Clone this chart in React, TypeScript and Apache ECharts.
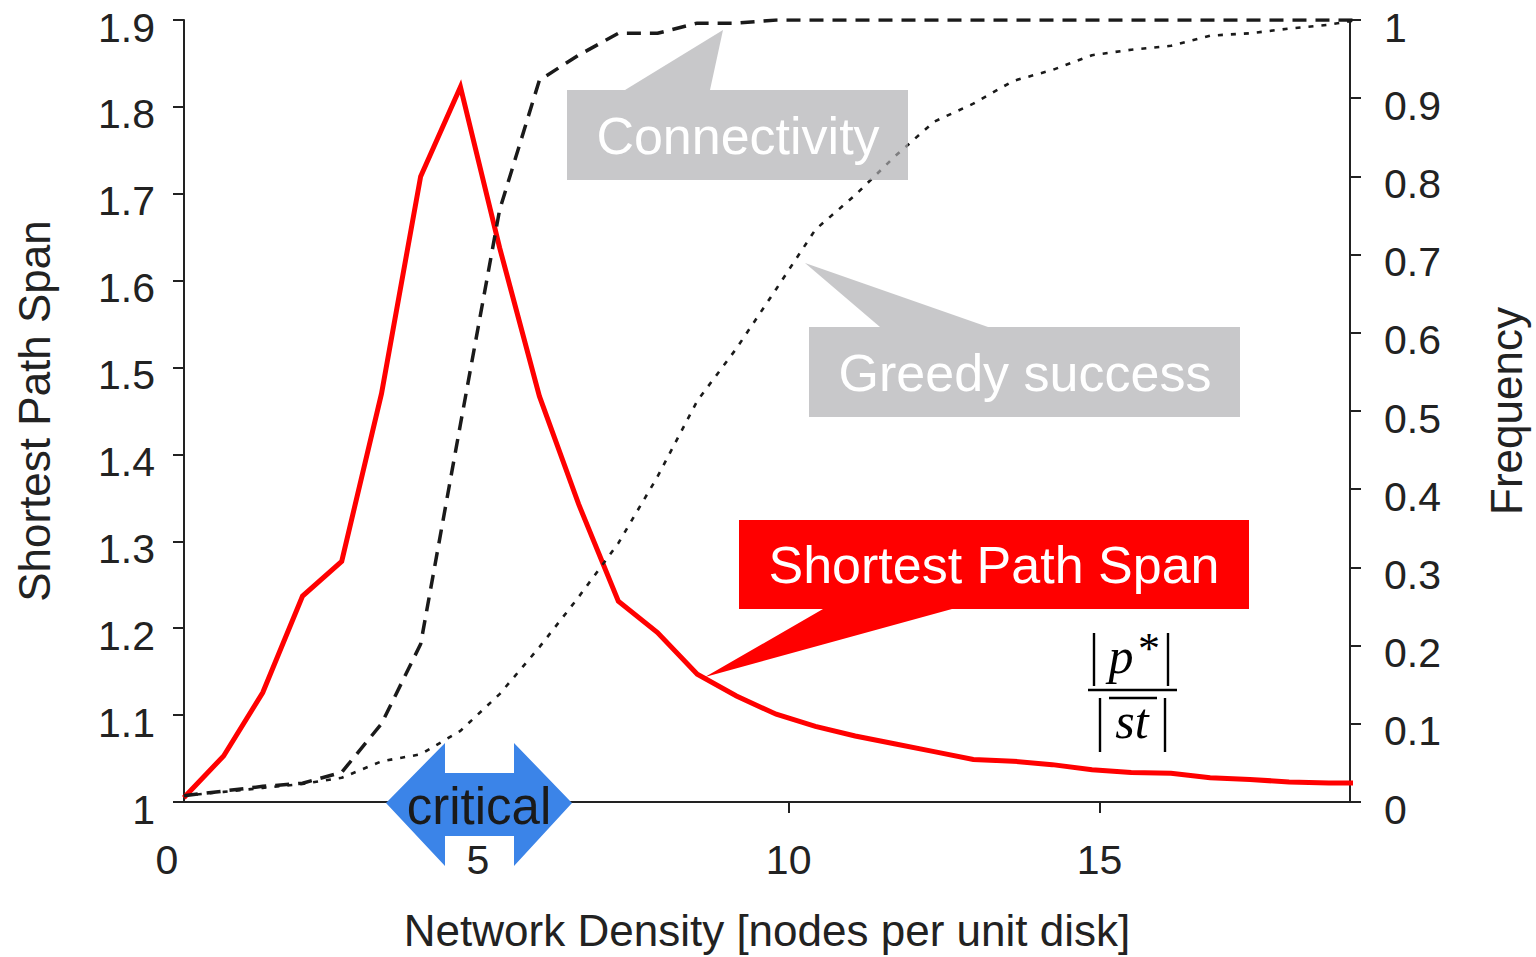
import React, { useEffect, useRef } from "react";
import * as echarts from "echarts";

// Network density sample points [nodes per unit disk]
const densities = [
  0.27, 0.91, 1.54, 2.18, 2.81, 3.45, 4.08, 4.72, 5.35, 5.99, 6.62, 7.26, 7.89,
  8.53, 9.16, 9.8, 10.43, 11.07, 11.7, 12.34, 12.97, 13.61, 14.24, 14.88, 15.51,
  16.15, 16.78, 17.42, 18.05, 18.69, 19.15,
];
// Shortest path span |p*| / |st|  (left axis)
const shortestPathSpan = [
  1.005, 1.053, 1.126, 1.237, 1.277, 1.47, 1.72, 1.823, 1.638, 1.467, 1.343,
  1.231, 1.195, 1.147, 1.122, 1.101, 1.087, 1.076, 1.067, 1.058, 1.049, 1.047,
  1.043, 1.037, 1.034, 1.033, 1.028, 1.026, 1.023, 1.022, 1.022,
];
// Connectivity frequency (right axis)
const connectivity = [
  0.008, 0.014, 0.02, 0.024, 0.038, 0.1, 0.202, 0.483, 0.757, 0.923, 0.955,
  0.983, 0.983, 0.996, 0.996, 1, 1, 1, 1, 1, 1, 1, 1, 1, 1, 1, 1, 1, 1, 1, 1,
];
// Greedy routing success frequency (right axis)
const greedySuccess = [
  0.008, 0.013, 0.018, 0.023, 0.031, 0.052, 0.061, 0.091, 0.138, 0.198, 0.262,
  0.331, 0.416, 0.513, 0.58, 0.656, 0.732, 0.776, 0.825, 0.87, 0.893, 0.922,
  0.936, 0.955, 0.962, 0.967, 0.98, 0.983, 0.989, 0.994, 1,
];
const xTickValues = [5, 10, 15];

const SANS = "'Liberation Sans', Arial, Helvetica, sans-serif";
const SERIF = "'Liberation Serif', 'DejaVu Serif', serif";
const INK = "#222222";

export default function App() {
  const ref = useRef<HTMLDivElement>(null);

  useEffect(() => {
    document.body.style.margin = "0";
    if (!ref.current) return;
    const chart = echarts.init(ref.current, null, { renderer: "svg" });

    const pair = (vals: number[]) => densities.map((x, i) => [x, vals[i]]);
    const axisLineStyle = { color: INK, width: 2 };
    const labelStyle = { fontSize: 41, color: INK, fontFamily: SANS };
    const nameStyle = { fontSize: 44, color: INK, fontFamily: SANS };
    // y tick labels sit a little below their ticks, as in the reference
    const yLabel = (margin: number) => ({
      ...labelStyle,
      margin,
      formatter: (v: number) => `{a|${v}}`,
      rich: { a: { ...labelStyle, padding: [15, 0, 0, 0] } },
    });

    const option: any = {
      animation: false,
      backgroundColor: "#ffffff",
      grid: { left: 184, right: 186, top: 20, bottom: 154 },
      xAxis: {
        type: "value",
        min: 0.273,
        max: 19.03,
        name: "Network Density [nodes per unit disk]",
        nameLocation: "middle",
        nameGap: 106,
        nameTextStyle: nameStyle,
        axisLine: { show: true, lineStyle: axisLineStyle },
        axisTick: {
          show: true,
          customValues: xTickValues,
          length: 11,
          lineStyle: axisLineStyle,
        },
        axisLabel: { ...labelStyle, customValues: xTickValues, margin: 37 },
        splitLine: { show: false },
      },
      yAxis: [
        {
          type: "value",
          min: 1,
          max: 1.9,
          interval: 0.1,
          position: "left",
          name: "Shortest Path Span",
          nameLocation: "middle",
          nameRotate: 90,
          nameGap: 128,
          nameTextStyle: nameStyle,
          axisLine: { show: true, lineStyle: axisLineStyle },
          axisTick: { show: true, length: 11, lineStyle: axisLineStyle },
          axisLabel: yLabel(29),
          splitLine: { show: false },
        },
        {
          type: "value",
          min: 0,
          max: 1,
          interval: 0.1,
          position: "right",
          name: "Frequency",
          nameLocation: "middle",
          nameRotate: 90,
          nameGap: 134,
          nameTextStyle: nameStyle,
          axisLine: { show: true, lineStyle: axisLineStyle },
          axisTick: { show: true, length: 11, lineStyle: axisLineStyle },
          axisLabel: yLabel(34),
          splitLine: { show: false },
        },
      ],
      series: [
        {
          name: "Shortest Path Span",
          type: "line",
          yAxisIndex: 0,
          data: pair(shortestPathSpan),
          symbol: "none",
          clip: false,
          lineStyle: { color: "#ff0000", width: 5, join: "miter" },
          z: 2,
        },
        {
          name: "Connectivity",
          type: "line",
          yAxisIndex: 1,
          data: pair(connectivity),
          symbol: "none",
          lineStyle: { color: "#1a1a1a", width: 3.5, type: [14, 9] },
          z: 3,
        },
        {
          name: "Greedy success",
          type: "line",
          yAxisIndex: 1,
          data: pair(greedySuccess),
          symbol: "none",
          lineStyle: { color: "#1a1a1a", width: 2.6, type: [5, 8] },
          z: 3,
        },
      ],
    };
    chart.setOption(option);

    const x0 = chart.convertToPixel({ xAxisIndex: 0 }, 0) as number;
    const yBase = chart.convertToPixel({ yAxisIndex: 1 }, 0) as number;

    const boxFill = "rgba(174,174,177,0.68)";
    const calloutText = (text: string, x: number, y: number) => ({
      type: "text",
      z: 120,
      style: {
        text,
        x,
        y,
        fill: "#ffffff",
        fontSize: 52,
        fontFamily: SANS,
        align: "center",
        verticalAlign: "middle",
      },
    });
    const bar = (x1: number, y1: number, x2: number, y2: number) => ({
      type: "line",
      z: 110,
      shape: { x1, y1, x2, y2 },
      style: { stroke: "#000000", lineWidth: 2.4 },
    });

    chart.setOption({
      graphic: [
        // "0" tick label of the x axis (lies left of the plotted range)
        {
          type: "text",
          z: 50,
          style: {
            text: "0",
            x: x0,
            y: yBase + 58,
            fill: INK,
            fontSize: 41,
            fontFamily: SANS,
            align: "center",
            verticalAlign: "middle",
          },
        },
        // Connectivity callout
        {
          type: "polygon",
          z: 100,
          shape: { points: [[567, 90], [625, 90], [723, 30], [710, 90], [908, 90], [908, 180], [567, 180]] },
          style: { fill: boxFill },
        },
        calloutText("Connectivity", 738, 136),
        // Greedy success callout
        {
          type: "polygon",
          z: 100,
          shape: { points: [[809, 327], [880, 327], [805, 263], [988, 327], [1240, 327], [1240, 417], [809, 417]] },
          style: { fill: boxFill },
        },
        calloutText("Greedy success", 1025, 373),
        // Shortest Path Span callout
        {
          type: "polygon",
          z: 100,
          shape: { points: [[739, 520], [1249, 520], [1249, 609], [952, 609], [705, 677], [823, 609], [739, 609]] },
          style: { fill: "#ff0000" },
        },
        calloutText("Shortest Path Span", 994, 565),
        // critical double arrow
        {
          type: "polygon",
          z: 100,
          shape: {
            points: [
              [386, 803], [445, 743], [445, 773], [514, 773], [514, 743], [572, 803],
              [514, 866], [514, 836], [445, 836], [445, 866],
            ],
          },
          style: { fill: "#3b84e8" },
        },
        {
          type: "text",
          z: 110,
          style: {
            text: "critical",
            x: 479,
            y: 806,
            fill: "#1a1a1a",
            fontSize: 51,
            fontFamily: SANS,
            align: "center",
            verticalAlign: "middle",
          },
        },
        // formula |p*| / |st|
        bar(1094, 633, 1094, 686),
        bar(1168, 633, 1168, 686),
        {
          type: "text",
          z: 110,
          style: {
            text: "p",
            x: 1121,
            y: 656,
            fill: "#000",
            fontSize: 50,
            fontStyle: "italic",
            fontFamily: SERIF,
            align: "center",
            verticalAlign: "middle",
          },
        },
        {
          type: "text",
          z: 110,
          style: {
            text: "*",
            x: 1149,
            y: 648,
            fill: "#000",
            fontSize: 44,
            fontFamily: SERIF,
            align: "center",
            verticalAlign: "middle",
          },
        },
        bar(1088, 690, 1177, 690),
        bar(1100, 698, 1100, 752),
        bar(1165, 698, 1165, 752),
        bar(1109, 698, 1157, 698),
        {
          type: "text",
          z: 110,
          style: {
            text: "st",
            x: 1132,
            y: 721,
            fill: "#000",
            fontSize: 50,
            fontStyle: "italic",
            fontFamily: SERIF,
            align: "center",
            verticalAlign: "middle",
          },
        },
      ],
    });

    return () => chart.dispose();
  }, []);

  return <div ref={ref} style={{ width: 1536, height: 957 }} />;
}
